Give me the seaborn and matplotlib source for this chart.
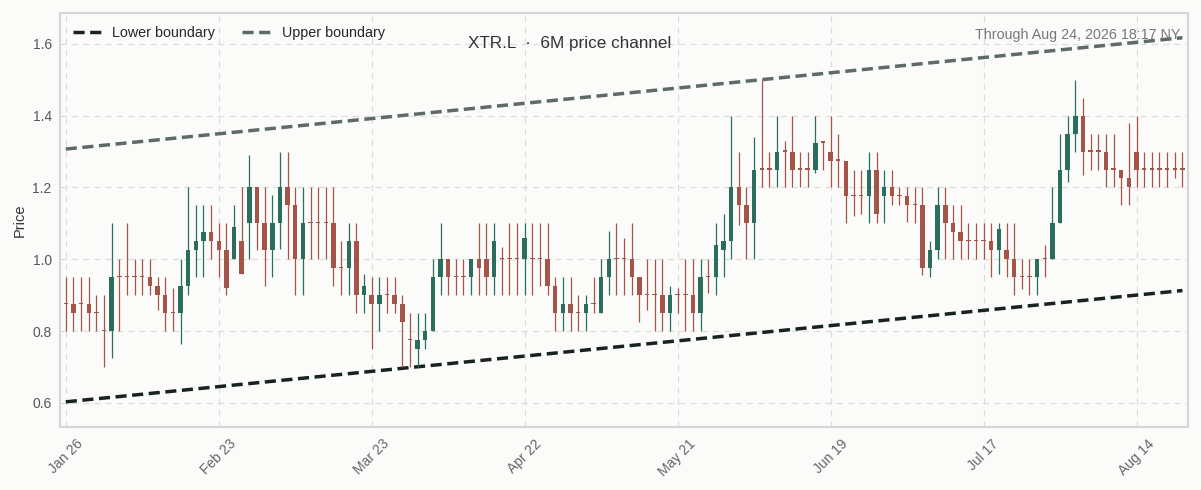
import numpy as np
import pandas as pd
import seaborn as sns
import matplotlib
matplotlib.use("Agg")
import matplotlib.pyplot as plt

# OHLC (one row per trading day, LSE calendar)
opens = [0.875, 0.875, 0.875, 0.875, 0.85, 0.80, 0.80, 0.95, 0.95, 0.95,
         0.95, 0.95, 0.925, 0.90, 0.85, 0.85, 0.925, 1.025, 1.05, 1.075,
         1.05, 1.025, 1.00, 1.05, 1.10, 1.20, 1.10, 1.025, 1.10, 1.20,
         1.15, 1.00, 1.10, 1.10, 1.10, 1.10, 0.975, 0.975, 1.05, 0.90,
         0.90, 0.875, 0.90, 0.90, 0.875, 0.775, 0.75, 0.775, 0.80, 0.95,
         1.00, 0.95, 0.95, 0.95, 1.00, 1.00, 0.95, 1.00, 1.00, 1.00,
         1.00, 1.00, 1.00, 1.00, 0.925, 0.85, 0.875, 0.85, 0.85, 0.875,
         0.85, 0.95, 1.00, 1.00, 1.00, 0.95, 0.90, 0.90, 0.90, 0.85,
         0.90, 0.90, 0.90, 0.85, 0.95, 0.95, 1.025, 1.05, 1.20, 1.15,
         1.10, 1.25, 1.25, 1.25, 1.30, 1.30, 1.25, 1.25, 1.25, 1.325,
         1.30, 1.275, 1.275, 1.175, 1.175, 1.175, 1.25, 1.175, 1.20, 1.175,
         1.175, 1.15, 1.15, 0.975, 1.025, 1.15, 1.10, 1.075, 1.05, 1.05,
         1.05, 1.05, 1.025, 1.025, 1.00, 0.95, 0.95, 0.95, 1.00, 1.00,
         1.10, 1.25, 1.35, 1.40, 1.30, 1.30, 1.30, 1.25, 1.25, 1.225,
         1.30, 1.25, 1.25, 1.25, 1.25, 1.25, 1.25]
highs = [0.95, 0.95, 0.95, 0.95, 0.90, 0.90, 1.10, 1.00, 1.10, 1.00,
         1.00, 1.00, 0.95, 0.95, 0.92, 1.00, 1.20, 1.15, 1.15, 1.15,
         1.10, 1.10, 1.15, 1.20, 1.29, 1.20, 1.20, 1.18, 1.30, 1.30,
         1.20, 1.20, 1.20, 1.20, 1.20, 1.20, 1.05, 1.10, 1.10, 0.96,
         0.95, 0.95, 0.95, 0.95, 0.90, 0.85, 0.85, 0.85, 1.00, 1.10,
         1.00, 1.00, 1.00, 1.00, 1.10, 1.10, 1.10, 1.035, 1.10, 1.10,
         1.10, 1.10, 1.10, 1.10, 0.95, 0.95, 0.95, 0.90, 0.90, 0.95,
         1.00, 1.08, 1.10, 1.06, 1.10, 0.95, 1.00, 1.00, 1.00, 0.925,
         0.92, 1.00, 1.00, 1.00, 1.00, 1.10, 1.125, 1.40, 1.30, 1.20,
         1.34, 1.50, 1.30, 1.40, 1.33, 1.40, 1.30, 1.30, 1.40, 1.33,
         1.40, 1.35, 1.275, 1.25, 1.25, 1.30, 1.30, 1.25, 1.25, 1.20,
         1.20, 1.20, 1.20, 1.05, 1.20, 1.20, 1.15, 1.15, 1.10, 1.10,
         1.10, 1.10, 1.10, 1.10, 1.10, 1.00, 1.00, 1.00, 1.04, 1.20,
         1.35, 1.40, 1.50, 1.45, 1.35, 1.35, 1.35, 1.35, 1.25, 1.38,
         1.40, 1.30, 1.30, 1.30, 1.30, 1.30, 1.30]
lows = [0.80, 0.80, 0.80, 0.80, 0.80, 0.70, 0.725, 0.80, 0.90, 0.90,
        0.90, 0.90, 0.86, 0.80, 0.80, 0.765, 0.90, 0.95, 0.95, 1.00,
        0.95, 0.90, 1.00, 0.96, 1.00, 1.025, 0.925, 0.95, 1.03, 1.00,
        0.90, 0.90, 1.00, 1.00, 1.00, 0.925, 0.90, 0.90, 0.85, 0.85,
        0.75, 0.80, 0.85, 0.85, 0.70, 0.70, 0.70, 0.75, 0.80, 0.90,
        0.90, 0.90, 0.90, 0.90, 0.90, 0.90, 0.90, 0.90, 0.90, 0.90,
        0.90, 0.90, 0.925, 0.90, 0.80, 0.80, 0.80, 0.80, 0.80, 0.85,
        0.85, 0.90, 0.90, 0.90, 0.90, 0.825, 0.86, 0.80, 0.80, 0.80,
        0.85, 0.80, 0.80, 0.80, 0.905, 0.90, 0.95, 1.00, 1.095, 1.00,
        1.00, 1.20, 1.20, 1.20, 1.20, 1.20, 1.20, 1.20, 1.24, 1.25,
        1.20, 1.20, 1.10, 1.12, 1.125, 1.10, 1.10, 1.10, 1.15, 1.15,
        1.105, 1.10, 0.955, 0.95, 1.00, 1.00, 1.00, 1.00, 1.00, 1.00,
        1.00, 0.95, 0.96, 0.95, 0.90, 0.917, 0.90, 0.90, 0.95, 1.00,
        1.10, 1.215, 1.30, 1.235, 1.25, 1.25, 1.20, 1.20, 1.15, 1.15,
        1.20, 1.20, 1.20, 1.20, 1.20, 1.225, 1.20]
closes = [0.875, 0.85, 0.875, 0.85, 0.85, 0.80, 0.95, 0.95, 0.95, 0.95,
          0.95, 0.925, 0.90, 0.85, 0.85, 0.925, 1.025, 1.05, 1.075, 1.05,
          1.025, 0.92, 1.09, 0.96, 1.20, 1.10, 1.025, 1.10, 1.20, 1.15,
          1.00, 1.10, 1.10, 1.10, 1.10, 0.975, 0.975, 1.05, 0.90, 0.925,
          0.875, 0.90, 0.90, 0.875, 0.825, 0.775, 0.775, 0.80, 0.95, 1.00,
          0.95, 0.95, 0.95, 1.00, 0.975, 0.95, 1.05, 1.00, 1.00, 1.00,
          1.06, 1.00, 1.00, 0.925, 0.85, 0.875, 0.85, 0.85, 0.875, 0.875,
          0.95, 1.00, 1.00, 1.00, 0.95, 0.90, 0.90, 0.90, 0.85, 0.90,
          0.90, 0.90, 0.85, 0.95, 0.95, 1.04, 1.05, 1.20, 1.15, 1.10,
          1.25, 1.25, 1.25, 1.30, 1.30, 1.25, 1.25, 1.25, 1.325, 1.325,
          1.275, 1.275, 1.175, 1.175, 1.175, 1.25, 1.125, 1.20, 1.175, 1.175,
          1.15, 1.15, 0.975, 1.025, 1.15, 1.10, 1.075, 1.05, 1.05, 1.05,
          1.05, 1.025, 1.085, 1.00, 0.95, 0.95, 0.95, 1.00, 1.00, 1.10,
          1.25, 1.35, 1.40, 1.30, 1.30, 1.30, 1.25, 1.25, 1.225, 1.20,
          1.25, 1.25, 1.25, 1.25, 1.25, 1.25, 1.25]

# channel end points
lower_start, lower_end = 0.603, 0.913
upper_start, upper_end = 1.307, 1.617

uk_holidays = ["2026-04-03", "2026-04-06", "2026-05-04", "2026-05-25"]
dates = pd.date_range("2026-01-26", periods=len(opens),
                      freq=pd.offsets.CustomBusinessDay(holidays=uk_holidays))

df = pd.DataFrame({"date": dates, "open": opens, "high": highs,
                   "low": lows, "close": closes})
df["idx"] = np.arange(len(df))

up_color = "#2b6e5e"
down_color = "#a5544a"
bg = "#fbfbf9"

sns.set_theme(style="whitegrid")
plt.rcParams["font.family"] = ["Liberation Sans", "DejaVu Sans"]

fig = plt.figure(figsize=(12.01, 4.90), dpi=100, facecolor=bg)
ax = fig.add_axes([0.05, 0.1286, 0.939, 0.845])
ax.set_facecolor(bg)

# channel lines
n = len(df)
chan = pd.DataFrame({
    "idx": np.r_[[0, n - 1], [0, n - 1]],
    "price": [lower_start, lower_end, upper_start, upper_end],
    "band": ["Lower boundary"] * 2 + ["Upper boundary"] * 2,
})
sns.lineplot(data=chan, x="idx", y="price", hue="band",
             palette={"Lower boundary": "#18221e", "Upper boundary": "#5e6a66"},
             linewidth=2.5, ax=ax, zorder=2)
for line in ax.get_lines():
    line.set_linestyle((0, (3.2, 1.6)))

# candles
colors = np.where(df["close"] > df["open"], up_color, down_color)
ax.vlines(df["idx"], df["low"], df["high"], colors=colors, linewidth=0.9, zorder=3)
body_low = np.minimum(df["open"], df["close"])
body_h = np.maximum((df["close"] - df["open"]).abs(), 0.004)
ax.bar(df["idx"], body_h, bottom=body_low, width=0.58, color=colors,
       linewidth=0, zorder=4)

ax.set_xlim(-0.75, n - 0.3)
ax.set_ylim(0.533, 1.686)
ticks = df["idx"][::20]
ax.set_xticks(ticks)
ax.set_xticklabels(df["date"][::20].dt.strftime("%b %d"), rotation=45,
                   ha="center", fontsize=10, color="#666666")
ax.set_yticks([0.6, 0.8, 1.0, 1.2, 1.4, 1.6])
ax.set_yticklabels(["0.6", "0.8", "1.0", "1.2", "1.4", "1.6"], fontsize=10, color="#555555")
ax.tick_params(axis="y", length=0, pad=6)
ax.tick_params(axis="x", length=0, pad=7)
ax.set_xlabel("")
ax.set_ylabel("Price", fontsize=10.5, color="#333333")

ax.grid(True, linestyle=(0, (5, 4)), color="#dddddd", linewidth=0.9)
for s in ax.spines.values():
    s.set_color("#d6d6d6")
    s.set_linewidth(1.5)

ax.legend(loc="upper left", ncol=2, frameon=False, fontsize=10.3,
          handlelength=2.2, handletextpad=0.55, columnspacing=1.9,
          borderaxespad=0.5, title=None)

ax.text(0.452, 0.926, "XTR.L  \u00b7  6M price channel", transform=ax.transAxes,
        ha="center", va="center", fontsize=12.3, color="#333333")
ax.text(0.993, 0.946, "Through Aug 24, 2026 18:17 NY", transform=ax.transAxes,
        ha="right", va="center", fontsize=10.3, color="#777777")

fig.savefig("out.png", dpi=100, facecolor=bg)
